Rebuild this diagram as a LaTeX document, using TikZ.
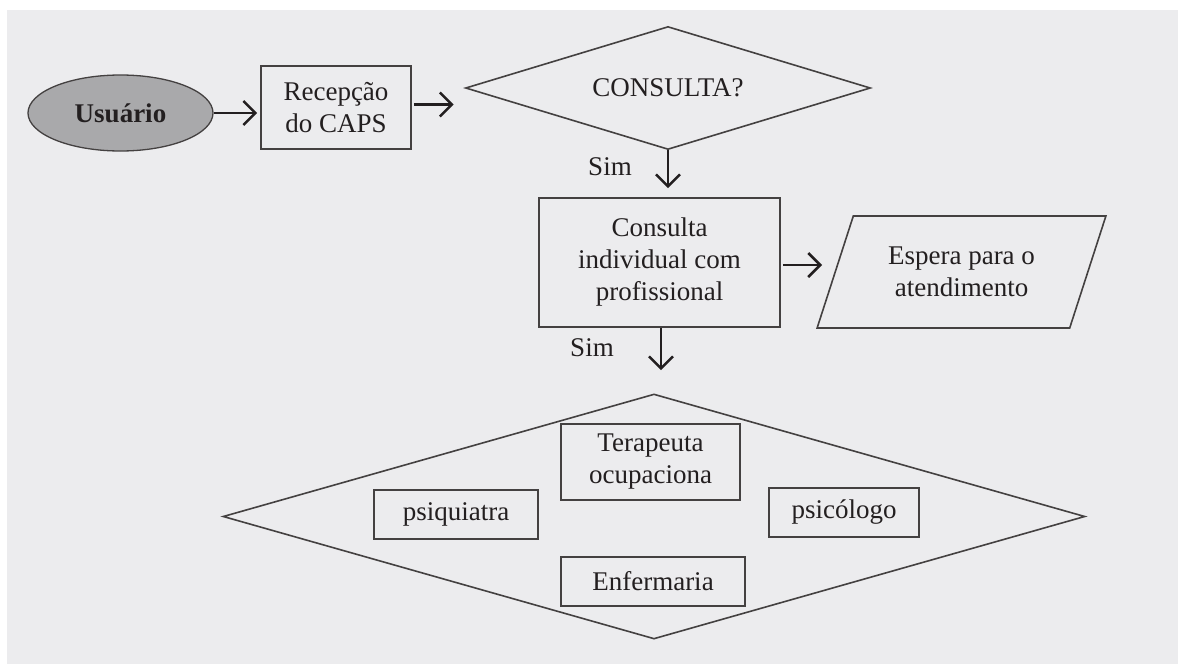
\documentclass[tikz,border=0pt]{standalone}
\usepackage{fontspec}
\setmainfont{Liberation Serif}
\usetikzlibrary{arrows.meta,calc,positioning,shapes.geometric}
\definecolor{bgfig}{RGB}{236,236,238}
\definecolor{ink}{RGB}{35,31,32}
\definecolor{usrfill}{RGB}{169,169,171}
\tikzset{caixa/.style={draw=ink!85,line width=1.6pt,align=center,inner sep=0pt},
  seta/.style={draw=ink,line width=2.5pt,-{Straight Barb[length=12pt,width=24pt,line width=2.5pt]}}}

\begin{document}
\begin{tikzpicture}[x=1pt,y=-1pt,line join=miter,font=\fontsize{27}{32}\selectfont,text=ink]
\useasboundingbox (0,0) rectangle (1178,664);
\fill[bgfig] (7,10) rectangle (1178,664);
% --- fluxo de entrada
\node[caixa,ellipse,fill=usrfill,line width=1.3pt,minimum width=185pt,minimum height=76pt,font=\fontsize{27}{32}\selectfont\bfseries] (usr) at (120.5,113) {Usuário};
\node[caixa,minimum width=150pt,minimum height=83pt] (rec) at (336,107.5) {Recepção\\do CAPS};
\node[caixa,diamond,aspect=3,minimum width=405pt,minimum height=123pt] (cq) at (668,88) {CONSULTA?};
\node (s1) at (610,167) {Sim};
\node[caixa,minimum width=241pt,minimum height=129pt] (ci) at (659.5,262.5) {Consulta\\individual com\\profissional};
\node[caixa,trapezium,trapezium left angle=63.8,trapezium right angle=116.2,trapezium stretches=true,minimum width=289pt,minimum height=112pt] (esp) at (961.5,272) {Espera para o\\atendimento};
\node (s2) at (592,348) {Sim};
% --- profissionais
\node[caixa,diamond,minimum width=862pt,minimum height=245pt] (prof) at (654,516.5) {};
\node[caixa,minimum width=179pt,minimum height=76pt] (ter) at (650.5,462) {Terapeuta\\ocupaciona};
\node[caixa,minimum width=164pt,minimum height=49pt] (psq) at (456,514.5) {psiquiatra};
\node[caixa,minimum width=150pt,minimum height=49pt] (psc) at (844,512.5) {psicólogo};
\node[caixa,minimum width=184pt,minimum height=49pt] (enf) at (653,581.5) {Enfermaria};
% --- setas
\draw[seta,shorten >=3pt] (usr.east) -- (usr.east -| rec.west);
\draw[seta,shorten <=2pt,shorten >=11pt] ([yshift=3pt]rec.east) -- ([yshift=3pt]rec.east -| cq.west);
\draw[seta,shorten >=9pt] (cq.south) -- (cq.south |- ci.north);
\draw[seta,shorten <=2pt,shorten >=-6pt] ([yshift=-2.5pt]ci.east) -- ([yshift=-2.5pt]ci.east -| esp.bottom left corner);
\draw[seta,shorten >=23pt] ([xshift=1.5pt]ci.south) -- ([xshift=1.5pt]ci.south |- prof.north);
\end{tikzpicture}
\end{document}
